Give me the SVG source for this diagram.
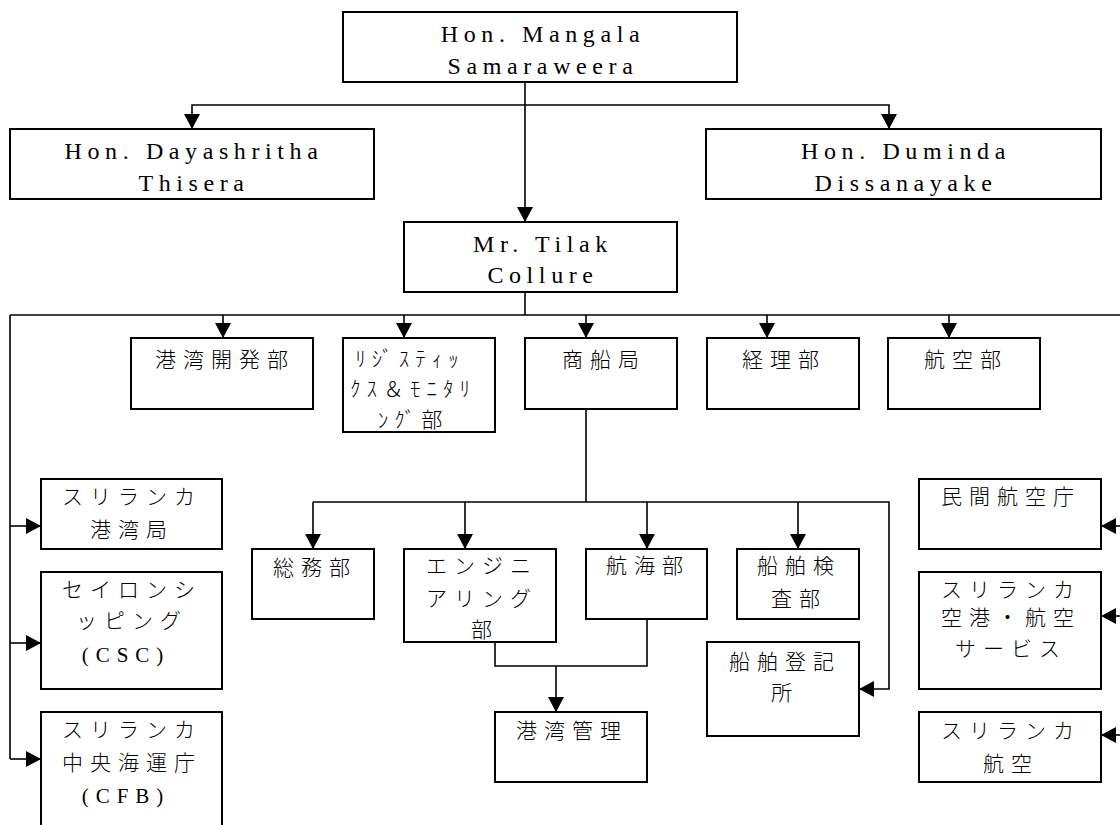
<svg xmlns="http://www.w3.org/2000/svg" width="1120" height="825" viewBox="0 0 1120 825">
<style>
.box{fill:#fff;stroke:#000;stroke-width:2}
.ln{fill:none;stroke:#000;stroke-width:1.6}
.ar{fill:none;stroke:#000;stroke-width:1.6;marker-end:url(#ah)}
.en{font-family:"Liberation Serif","Times New Roman",serif;font-size:24px;letter-spacing:5.6px;text-anchor:middle;fill:#000}
.jp{font-family:"Noto Sans CJK JP","Noto Sans CJK SC",sans-serif;font-size:21px;font-weight:300;letter-spacing:7px;text-anchor:middle;fill:#000}
.lat{font-family:"Liberation Serif","Times New Roman",serif;font-size:21px;letter-spacing:7px;text-anchor:middle;fill:#000}
.hk{font-family:"Noto Sans CJK JP",sans-serif;font-size:21px;font-weight:300;letter-spacing:6px;text-anchor:middle;fill:#000}
</style>
<defs>
<marker id="ah" markerWidth="16" markerHeight="16" refX="15" refY="8" orient="auto" markerUnits="userSpaceOnUse"><path d="M0,0 L15,8 L0,16 z" fill="#000"/></marker>
</defs>
<rect width="1120" height="825" fill="#fff"/>
<g id="connectors">
<path class="ar" d="M525,82 V222"/>
<path class="ar" d="M525,105 H192 V129"/>
<path class="ar" d="M525,105 H889 V129"/>
<path class="ln" d="M525,292 V315"/>
<path class="ln" d="M10,315 H1125"/>
<path class="ln" d="M10,315 V759"/>
<path class="ln" d="M1125,315 V735"/>
<path class="ar" d="M223,315 V338"/>
<path class="ar" d="M404,315 V338"/>
<path class="ar" d="M586,315 V338"/>
<path class="ar" d="M767,315 V338"/>
<path class="ar" d="M949,315 V338"/>
<path class="ar" d="M10,526 H41"/>
<path class="ar" d="M10,643 H41"/>
<path class="ar" d="M10,759 H41"/>
<path class="ar" d="M1125,526 H1101"/>
<path class="ar" d="M1125,616 H1101"/>
<path class="ar" d="M1125,735 H1101"/>
<path class="ln" d="M586,409 V502"/>
<path class="ar" d="M313,502 H889 V689 H859"/>
<path class="ar" d="M313,502 V549"/>
<path class="ar" d="M465,502 V549"/>
<path class="ar" d="M647,502 V549"/>
<path class="ar" d="M798,502 V549"/>
<path class="ln" d="M495,642 V666 H647 V619"/>
<path class="ar" d="M556,666 V712"/>
</g>
<g id="n-mangala"><rect class="box" x="343" y="12" width="394" height="70"/><text class="en" x="543" y="42">Hon. Mangala</text><text class="en" x="543" y="74">Samaraweera</text></g>
<g id="n-dayashritha"><rect class="box" x="10" y="129" width="364" height="70"/><text class="en" x="194" y="159">Hon. Dayashritha</text><text class="en" x="194" y="191">Thisera</text></g>
<g id="n-duminda"><rect class="box" x="706" y="129" width="395" height="70"/><text class="en" x="906" y="159">Hon. Duminda</text><text class="en" x="906" y="191">Dissanayake</text></g>
<g id="n-tilak"><rect class="box" x="404" y="222" width="273" height="70"/><text class="en" x="543" y="252">Mr. Tilak</text><text class="en" x="543" y="283">Collure</text></g>
<g id="n-kowan-kaihatsu"><rect class="box" x="131" y="338" width="182" height="71"/><text class="jp" x="225" y="367">港湾開発部</text></g>
<g id="n-logistics"><rect class="box" x="343" y="338" width="152" height="94"/><text class="hk" x="410" y="366">ﾘｼﾞｽﾃｨｯ</text><text class="hk" x="413" y="396">ｸｽ＆ﾓﾆﾀﾘ</text><text class="hk" x="413" y="427">ﾝｸﾞ部</text></g>
<g id="n-shosen"><rect class="box" x="525" y="338" width="152" height="71"/><text class="jp" x="604" y="367">商船局</text></g>
<g id="n-keiri"><rect class="box" x="707" y="338" width="152" height="71"/><text class="jp" x="784" y="367">経理部</text></g>
<g id="n-kouku"><rect class="box" x="888" y="338" width="152" height="71"/><text class="jp" x="966" y="367">航空部</text></g>
<g id="n-slpa"><rect class="box" x="41" y="479" width="181" height="70"/><text class="jp" x="132" y="504">スリランカ</text><text class="jp" x="132" y="537">港湾局</text></g>
<g id="n-csc"><rect class="box" x="41" y="572" width="181" height="117"/><text class="jp" x="132" y="597">セイロンシ</text><text class="jp" x="132" y="628">ッピング</text><text class="lat" x="126" y="662">(CSC)</text></g>
<g id="n-cfb"><rect class="box" x="41" y="712" width="181" height="130"/><text class="jp" x="132" y="737">スリランカ</text><text class="jp" x="132" y="770">中央海運庁</text><text class="lat" x="126" y="803">(CFB)</text></g>
<g id="n-somu"><rect class="box" x="252" y="549" width="122" height="70"/><text class="jp" x="315" y="575">総務部</text></g>
<g id="n-engineering"><rect class="box" x="404" y="549" width="152" height="93"/><text class="jp" x="482" y="573">エンジニ</text><text class="jp" x="482" y="606">アリング</text><text class="jp" x="485" y="637">部</text></g>
<g id="n-kokai"><rect class="box" x="586" y="549" width="121" height="70"/><text class="jp" x="648" y="573">航海部</text></g>
<g id="n-kensa"><rect class="box" x="737" y="549" width="122" height="70"/><text class="jp" x="799" y="573">船舶検</text><text class="jp" x="799" y="606">査部</text></g>
<g id="n-toki"><rect class="box" x="707" y="642" width="152" height="94"/><text class="jp" x="785" y="669">船舶登記</text><text class="jp" x="785" y="700">所</text></g>
<g id="n-kanri"><rect class="box" x="495" y="712" width="152" height="70"/><text class="jp" x="572" y="738">港湾管理</text></g>
<g id="n-caa"><rect class="box" x="919" y="479" width="182" height="70"/><text class="jp" x="1011" y="504">民間航空庁</text></g>
<g id="n-airport"><rect class="box" x="919" y="572" width="182" height="117"/><text class="jp" x="1011" y="597">スリランカ</text><text class="jp" x="1011" y="625">空港・航空</text><text class="jp" x="1011" y="656">サービス</text></g>
<g id="n-airlines"><rect class="box" x="919" y="712" width="182" height="70"/><text class="jp" x="1011" y="738">スリランカ</text><text class="jp" x="1011" y="771">航空</text></g>
</svg>
